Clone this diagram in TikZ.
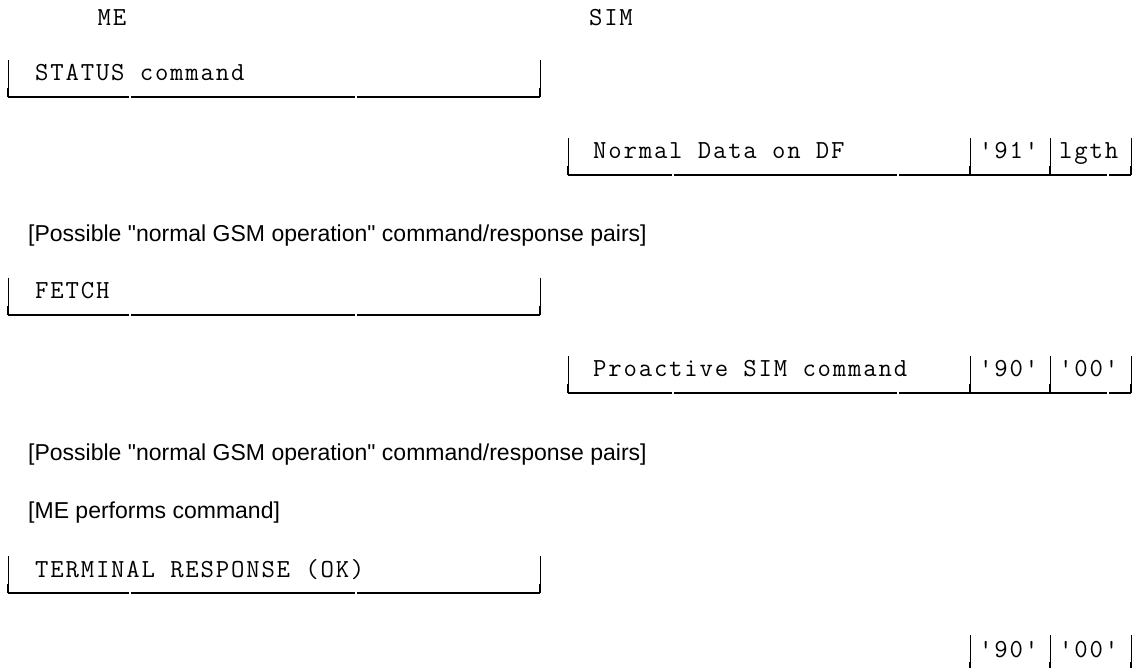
\documentclass[tikz,border=0pt]{standalone}
\usepackage{fontspec}
\setmainfont{Liberation Sans}[Ligatures=TeXOff]
\newfontfamily\monof{Latin Modern Mono}[LetterSpace=7.0]
\newcommand{\sq}{\symbol{39}}
\tikzset{
  mono/.style={font=\monof\fontsize{26}{26}\selectfont, inner sep=0pt},
  sans/.style={font=\fontsize{23}{23}\selectfont, inner sep=0pt},
  vbar/.style={line width=0.8pt},
  stub/.style={line width=2pt},
  bline/.style={line width=2pt},
}
% \ubox{bars}{top}{bottom}{first}{last}{gaps}
\newcommand{\ubox}[6]{%
  \draw[bline] (#4,#3) -- (#5,#3);
  \foreach \gx in {#6} {\fill[white] (\gx-0.8,#3-2) rectangle (\gx+0.8,#3+2);}
  \foreach \bx in {#1} {\draw[vbar] (\bx,#2) -- (\bx,#3); \draw[stub] (\bx,#3-9) -- (\bx,#3);}
}
\begin{document}
\begin{tikzpicture}[x=1pt,y=-1pt]
\useasboundingbox (0,0) rectangle (1138,668);
% headers
\node[mono, anchor=base] (me) at (112,26) {ME};
\node[mono, anchor=base] (sim) at (611,26) {SIM};
% box 1: STATUS command
\ubox{8,540}{60}{97}{8}{540}{130,356}
\node[mono, anchor=base west] (status) at (35,81) {STATUS command};
% box 2: Normal data on DF
\ubox{568,970,1050,1131}{138}{175}{568}{1131}{673,898,1108}
\node[mono, anchor=base west] (normal) at (593,159) {Normal Data on DF};
\node[mono, anchor=base west] (n91) at (979,159) {\sq91\sq};
\node[mono, anchor=base west] (lgth) at (1059,159) {lgth};
% text 1
\node[sans, anchor=base west] (poss1) at (28,242) {[Possible "normal GSM operation" command/response pairs]};
% box 3: FETCH
\ubox{8,540}{278}{315}{8}{540}{130,356}
\node[mono, anchor=base west] (fetch) at (35,299) {FETCH};
% box 4: Proactive SIM command
\ubox{568,970,1050,1131}{356}{393}{568}{1131}{673,898,1108}
\node[mono, anchor=base west] (proactive) at (593,377) {Proactive SIM command};
\node[mono, anchor=base west] (p90) at (979,377) {\sq90\sq};
\node[mono, anchor=base west] (p00) at (1059,377) {\sq00\sq};
% text 2 and 3
\node[sans, anchor=base west] (poss2) at (28,460) {[Possible "normal GSM operation" command/response pairs]};
\node[sans, anchor=base west] (perf) at (28,518) {[ME performs command]};
% box 5: TERMINAL RESPONSE
\ubox{8,540}{556}{593}{8}{540}{130,356}
\node[mono, anchor=base west] (term) at (35,577) {TERMINAL RESPONSE (OK)};
% final row
\foreach \bx in {970,1050,1131} {\draw[vbar] (\bx,635) -- (\bx,668); \draw[stub] (\bx,662) -- (\bx,668);}
\node[mono, anchor=base west] (f90) at (979,657) {\sq90\sq};
\node[mono, anchor=base west] (f00) at (1059,657) {\sq00\sq};
\end{tikzpicture}
\end{document}
